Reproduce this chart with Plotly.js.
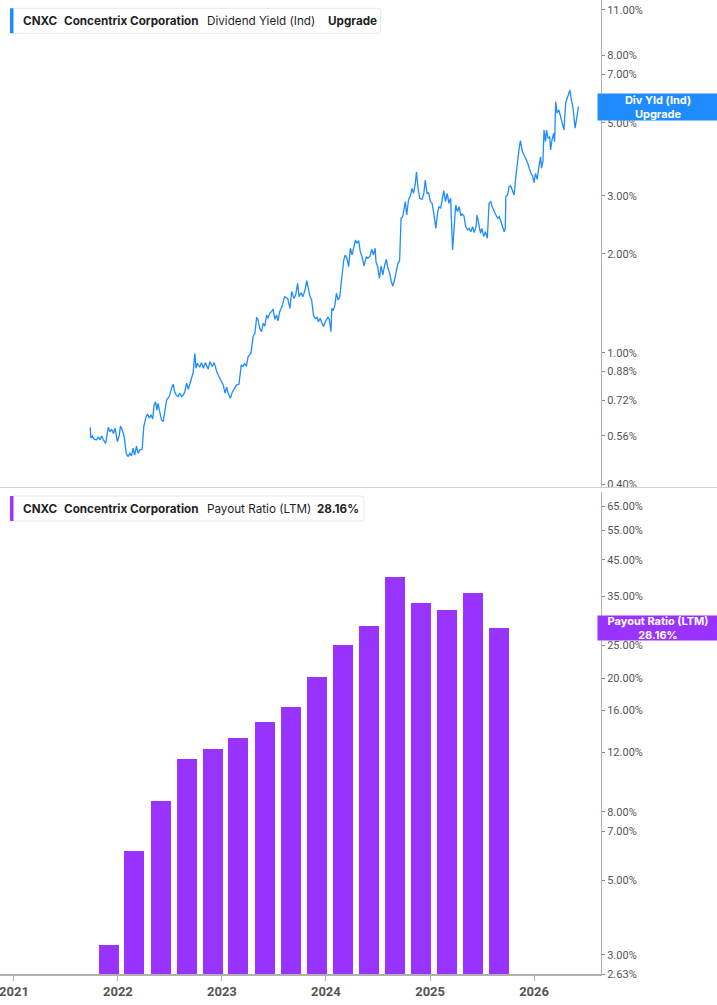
<!DOCTYPE html>
<html><head><meta charset="utf-8">
<script src="https://cdn.plot.ly/plotly-3.0.1.min.js"></script>
<style>html,body{margin:0;padding:0;background:#fff}#chart{width:717px;height:1005px}</style>
</head><body><div id="chart"></div>
<script>
const yieldDates = [
'2021-09-26','2021-09-28','2021-10-03','2021-10-10','2021-10-18','2021-10-24','2021-10-30','2021-11-05','2021-11-10','2021-11-19',
'2021-11-28','2021-12-04','2021-12-10','2021-12-16','2021-12-22','2021-12-30','2022-01-06','2022-01-10','2022-01-16','2022-01-23',
'2022-01-30','2022-02-06','2022-02-12','2022-02-18','2022-02-23','2022-03-01','2022-03-07','2022-03-13','2022-03-19','2022-03-27',
'2022-04-02','2022-04-10','2022-04-15','2022-04-21','2022-04-27','2022-05-03','2022-05-08','2022-05-13','2022-05-18','2022-05-22',
'2022-05-28','2022-06-03','2022-06-09','2022-06-15','2022-06-21','2022-06-26','2022-07-02','2022-07-08','2022-07-14','2022-07-19',
'2022-07-25','2022-07-31','2022-08-06','2022-08-13','2022-08-18','2022-08-24','2022-08-30','2022-09-05','2022-09-11','2022-09-17',
'2022-09-22','2022-09-28','2022-10-02','2022-10-07','2022-10-15','2022-10-21','2022-10-28','2022-11-04','2022-11-14','2022-11-20',
'2022-11-28','2022-12-05','2022-12-14','2022-12-22','2022-12-31','2023-01-06','2023-01-12','2023-01-18','2023-01-23','2023-01-31',
'2023-02-06','2023-02-15','2023-02-21','2023-03-02','2023-03-10','2023-03-16','2023-03-22','2023-03-28','2023-04-03','2023-04-13',
'2023-04-21','2023-04-27','2023-05-03','2023-05-08','2023-05-14','2023-05-20','2023-05-26','2023-06-01','2023-06-07','2023-06-12',
'2023-06-18','2023-06-24','2023-06-30','2023-07-06','2023-07-12','2023-07-17','2023-07-23','2023-07-31','2023-08-09','2023-08-20',
'2023-08-28','2023-09-03','2023-09-11','2023-09-17','2023-09-24','2023-09-29','2023-10-06','2023-10-12','2023-10-20','2023-10-26',
'2023-10-31','2023-11-06','2023-11-12','2023-11-19','2023-11-25','2023-12-01','2023-12-06','2023-12-12','2023-12-18','2023-12-24',
'2023-12-30','2024-01-08','2024-01-13','2024-01-19','2024-01-22','2024-01-27','2024-02-02','2024-02-07','2024-02-13','2024-02-19',
'2024-02-25','2024-02-28','2024-03-04','2024-03-09','2024-03-15','2024-03-21','2024-03-27','2024-04-02','2024-04-08','2024-04-14',
'2024-04-19','2024-04-25','2024-05-01','2024-05-07','2024-05-14','2024-05-22','2024-05-27','2024-06-04','2024-06-10','2024-06-16',
'2024-06-22','2024-06-25','2024-07-01','2024-07-07','2024-07-13','2024-07-19','2024-07-25','2024-07-31','2024-08-06','2024-08-12',
'2024-08-18','2024-08-23','2024-08-29','2024-09-04','2024-09-10','2024-09-16','2024-09-21','2024-09-27','2024-10-03','2024-10-06',
'2024-10-11','2024-10-17','2024-10-24','2024-10-29','2024-11-04','2024-11-10','2024-11-14','2024-11-20','2024-11-26','2024-12-04',
'2024-12-10','2024-12-15','2024-12-21','2024-12-27','2025-01-02','2025-01-08','2025-01-14','2025-01-21','2025-01-27','2025-02-01',
'2025-02-07','2025-02-13','2025-02-18','2025-02-24','2025-03-02','2025-03-08','2025-03-14','2025-03-21','2025-03-26','2025-04-01',
'2025-04-07','2025-04-13','2025-04-19','2025-04-24','2025-04-30','2025-05-06','2025-05-13','2025-05-18','2025-05-24','2025-05-30',
'2025-06-05','2025-06-11','2025-06-15','2025-06-21','2025-06-27','2025-07-02','2025-07-08','2025-07-14','2025-07-21','2025-07-27',
'2025-08-02','2025-08-07','2025-08-14','2025-08-20','2025-08-26','2025-09-01','2025-09-07','2025-09-13','2025-09-18','2025-09-22',
'2025-09-24','2025-09-30','2025-10-05','2025-10-11','2025-10-17','2025-10-23','2025-10-29','2025-11-04','2025-11-09','2025-11-14',
'2025-11-21','2025-11-27','2025-12-03','2025-12-10','2025-12-15','2025-12-21','2025-12-27','2026-01-01','2026-01-06','2026-01-12',
'2026-01-18','2026-01-24','2026-01-27','2026-02-01','2026-02-05','2026-02-10','2026-02-14','2026-02-19','2026-02-25','2026-02-28',
'2026-03-05','2026-03-11','2026-03-14','2026-03-18','2026-03-23','2026-03-29','2026-04-04','2026-04-10','2026-04-16','2026-04-22',
'2026-04-27','2026-05-03','2026-05-07','2026-05-12','2026-05-18','2026-05-25','2026-05-31','2026-06-06'
];
const yieldValues = [
0.595,0.551,0.560,0.547,0.545,0.557,0.545,0.560,0.547,0.532,
0.595,0.577,0.587,0.570,0.591,0.538,0.564,0.600,0.584,0.557,
0.496,0.485,0.496,0.487,0.514,0.490,0.522,0.496,0.508,0.510,
0.600,0.641,0.653,0.634,0.649,0.630,0.695,0.711,0.671,0.703,
0.663,0.626,0.619,0.679,0.720,0.729,0.745,0.781,0.805,0.763,
0.745,0.737,0.755,0.737,0.745,0.763,0.810,0.776,0.814,0.838,
0.871,0.998,0.899,0.931,0.905,0.935,0.899,0.935,0.893,0.941,
0.910,0.935,0.877,0.847,0.818,0.799,0.755,0.787,0.755,0.729,
0.758,0.781,0.799,0.805,0.920,0.910,0.931,0.910,0.974,0.998,
1.126,1.147,1.283,1.259,1.188,1.160,1.230,1.207,1.304,1.274,
1.319,1.335,1.358,1.265,1.304,1.253,1.335,1.383,1.482,1.465,
1.367,1.536,1.465,1.500,1.628,1.482,1.524,1.482,1.553,1.657,
1.572,1.489,1.448,1.295,1.274,1.283,1.244,1.274,1.236,1.202,
1.244,1.283,1.265,1.160,1.367,1.344,1.399,1.518,1.448,1.482,
1.665,1.745,1.915,1.984,1.938,1.828,2.079,1.984,2.112,2.203,
2.153,2.192,2.030,1.960,1.837,1.960,1.938,1.968,2.064,1.984,
2.079,1.892,1.828,1.685,1.837,1.725,1.837,1.924,1.807,1.745,
1.645,1.597,1.665,1.765,1.871,1.906,2.564,2.592,2.780,2.878,
2.623,2.913,2.995,3.161,3.052,3.273,3.550,3.140,2.948,2.927,
3.052,3.350,3.052,3.064,2.878,2.847,2.654,2.390,2.654,2.780,
2.749,2.913,3.109,2.878,3.052,2.847,2.948,2.054,2.417,2.813,
2.684,2.780,2.605,2.642,2.605,2.417,2.362,2.390,2.334,2.417,
2.318,2.417,2.623,2.475,2.308,2.390,2.255,2.334,2.229,2.847,
2.878,2.780,2.684,2.623,2.564,2.592,2.503,2.417,2.334,2.390,
2.995,3.016,3.197,3.213,3.087,3.016,3.428,3.852,4.131,4.408,
4.082,3.989,3.898,3.765,3.636,3.510,3.445,3.288,3.510,3.366,
3.677,3.941,3.636,3.806,4.751,4.378,4.751,4.483,4.537,4.131,
4.430,4.643,4.378,5.790,5.340,5.464,5.215,4.980,4.751,5.750,
5.930,6.140,6.283,5.859,5.530,4.810,5.215,5.590
];
const payoutDates = ['2021-11-30','2022-02-28','2022-05-31','2022-08-31','2022-11-30','2023-02-28','2023-05-31','2023-08-31',
  '2023-11-30','2024-02-29','2024-05-31','2024-08-31','2024-11-30','2025-02-28','2025-05-31','2025-08-31'];
const payoutValues = [3.2,6.1,8.6,11.5,12.3,13.25,14.8,16.4,20.1,25.1,28.6,40.0,33.4,31.8,35.8,28.16];
const yTopTicks = [11,8,7,5,3,2,1,0.88,0.72,0.56,0.40];
const yBotTicks = [65,55,45,35,25,20,16,12,8,7,5,3,2.63];
const xTickVals = ['2021-01-01','2022-01-01','2023-01-01','2024-01-01','2025-01-01','2026-01-01'];
const xTickText = ['2021','2022','2023','2024','2025','2026'];
const ticker = 'CNXC';
const company = 'Concentrix Corporation';
const topMetric = 'Dividend Yield (Ind)';
const topValueText = 'Upgrade';
const botMetric = 'Payout Ratio (LTM)';
const botValueText = '28.16%';
const topTagText = 'Div Yld (Ind)<br>Upgrade';
const botTagText = 'Payout Ratio (LTM)<br>28.16%';

const BLUE = '#1e8cff', PURPLE = '#9933ff';
const PW = 601, PH = 974;
const px = x => x / PW;
const py = y => (PH - y) / PH;
const fmt = v => v.toFixed(2) + '%';

const traces = [
  {type:'scatter', mode:'lines', x:yieldDates, y:yieldValues, xaxis:'x', yaxis:'y',
   line:{color:BLUE, width:1.3}, hoverinfo:'skip'},
  {type:'bar', x:payoutDates, y:payoutValues, xaxis:'x', yaxis:'y2',
   marker:{color:PURPLE, line:{width:0}}, width:70*86400000, hoverinfo:'skip'}
];

const legendFont = {family:'Inter, "Noto Sans", sans-serif', size:11.7, color:'#1f1f1f'};
function legendAnns(yc, t3, t4, x4){
  return [
    {text:'<b>'+ticker+'</b>', x:px(20.5), y:py(yc)},
    {text:'<b>'+company+'</b>', x:px(62), y:py(yc)},
    {text:t3, x:px(204.5), y:py(yc)},
    {text:'<b>'+t4+'</b>', x:px(x4), y:py(yc)}
  ].map(a => Object.assign(a, {xref:'paper', yref:'paper', xanchor:'left', yanchor:'middle',
      showarrow:false, font:legendFont}));
}
function roundRect(x0,y0,x1,y1,r){
  const X0=px(x0),X1=px(x1),Y0=py(y0),Y1=py(y1);
  const rx=r/PW, ry=r/PH;
  return `M ${X0+rx},${Y0} L ${X1-rx},${Y0} Q ${X1},${Y0} ${X1},${Y0-ry} L ${X1},${Y1+ry} Q ${X1},${Y1} ${X1-rx},${Y1} L ${X0+rx},${Y1} Q ${X0},${Y1} ${X0},${Y1+ry} L ${X0},${Y0-ry} Q ${X0},${Y0} ${X0+rx},${Y0} Z`;
}

const annotations = [
  ...legendAnns(20.8, topMetric, topValueText, 325.5),
  ...legendAnns(509, botMetric, botValueText, 315),
  {xref:'paper', yref:'y', x:px(597), y:Math.log10(yieldValues[yieldValues.length-1]), xanchor:'left', yanchor:'middle',
   text:'<b>'+topTagText+'</b>', showarrow:false, bgcolor:BLUE, width:120, height:26, borderpad:0,
   font:{family:'Inter, sans-serif', size:11, color:'#fff'}, align:'center'},
  {xref:'paper', yref:'y2', x:px(597), y:Math.log10(payoutValues[payoutValues.length-1]), xanchor:'left', yanchor:'middle',
   text:'<b>'+botTagText+'</b>', showarrow:false, bgcolor:PURPLE, width:120, height:24, borderpad:0,
   font:{family:'Inter, sans-serif', size:11, color:'#fff'}, align:'center'}
];

const shapes = [
  {type:'path', xref:'paper', yref:'paper', path:roundRect(10,8.3,380.7,33.3,3), fillcolor:'#fff', line:{color:'#e8e8e8', width:1}, layer:'above'},
  {type:'rect', xref:'paper', yref:'paper', x0:px(10), x1:px(13.5), y0:py(33.3), y1:py(8.3), fillcolor:BLUE, line:{width:0}, layer:'above'},
  {type:'path', xref:'paper', yref:'paper', path:roundRect(10,496,364,521,3), fillcolor:'#fff', line:{color:'#e8e8e8', width:1}, layer:'above'},
  {type:'rect', xref:'paper', yref:'paper', x0:px(10), x1:px(13.5), y0:py(521), y1:py(496), fillcolor:PURPLE, line:{width:0}, layer:'above'},
  {type:'line', xref:'paper', yref:'paper', x0:0, x1:717/PW, y0:py(487.5), y1:py(487.5), line:{color:'#d0d0d0', width:1}}
];

const yAxisCommon = {type:'log', side:'right', showgrid:false, zeroline:false, showline:true, linecolor:'#b0b0b0', linewidth:1,
  ticks:'outside', ticklen:3, tickcolor:'#888', tickmode:'array',
  tickfont:{family:'Roboto, sans-serif', size:11, color:'#555'}, anchor:'x', fixedrange:true};

const layout = {
  width:717, height:1005, margin:{l:0, r:116, t:0, b:31}, paper_bgcolor:'#fff', plot_bgcolor:'#fff',
  showlegend:false, bargap:0,
  xaxis:{type:'date', range:['2020-11-13','2026-08-24'], anchor:'y2', showgrid:false, zeroline:false,
    showline:true, linecolor:'#b0b0b0', linewidth:1.5, ticks:'outside', ticklen:5, tickcolor:'#b0b0b0',
    tickmode:'array', tickvals:xTickVals, ticktext:xTickText, ticklabeloverflow:'allow',
    tickfont:{family:'Roboto, sans-serif', size:13, color:'#555', weight:'bold'}},
  yaxis:Object.assign({}, yAxisCommon, {domain:[0.5,1], range:[-0.4067,1.0713],
    tickvals:yTopTicks, ticktext:yTopTicks.map(fmt)}),
  yaxis2:Object.assign({}, yAxisCommon, {domain:[0,0.4949], range:[0.42,1.855],
    tickvals:yBotTicks, ticktext:yBotTicks.map(fmt)}),
  annotations, shapes
};
Plotly.newPlot('chart', traces, layout, {displayModeBar:false, staticPlot:true});
</script></body></html>
